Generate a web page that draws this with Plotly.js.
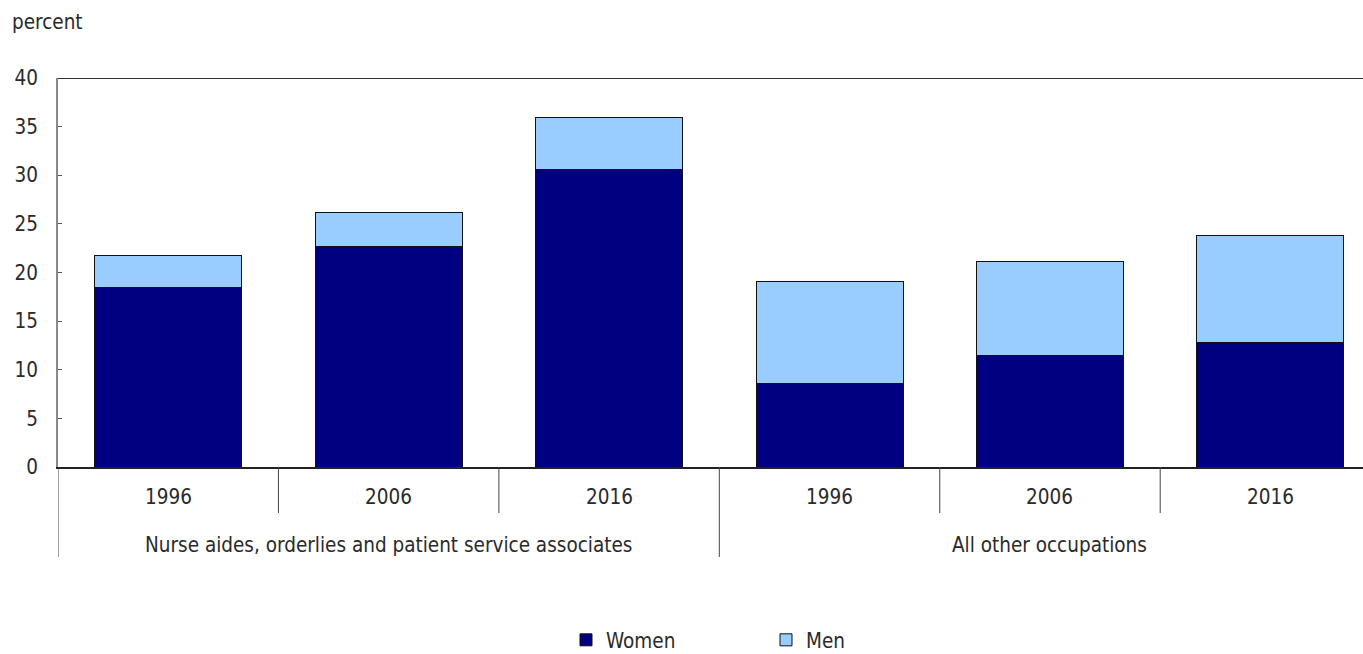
<!DOCTYPE html>
<html>
<head>
<meta charset="utf-8">
<script src="https://cdn.plot.ly/plotly-3.0.1.min.js"></script>
<style>html,body{margin:0;padding:0;background:#fff;overflow:hidden}</style>
</head>
<body>
<div id="chart" style="width:1363px;height:654px"></div>
<script>
const groups = ["Nurse aides, orderlies and patient service associates", "All other occupations"];
const years = ["1996", "2006", "2016"];
const women = [18.5, 22.7, 30.6, 8.6, 11.5, 12.8];
const men = [3.3, 3.5, 5.3, 10.5, 9.6, 11.0];
const yTicks = [0, 5, 10, 15, 20, 25, 30, 35, 40];

const xGroup = [], xYear = [];
groups.forEach(g => years.forEach(y => { xGroup.push(g); xYear.push(y); }));

const FONT = "DejaVu Sans Condensed, DejaVu Sans, sans-serif";
const FS = 20.5;
const TXT = "#2a2a2a";

const traces = [
  {type: "bar", name: "Women", x: [xGroup, xYear], y: women,
   marker: {color: "#000080", line: {color: "#111", width: 1}}},
  {type: "bar", name: "Men", x: [xGroup, xYear], y: men,
   marker: {color: "#99CCFF", line: {color: "#111", width: 1}}}
];

const plotH = 654 - 78 - 187;
const shapes = [];
const annotations = [];
// top border line
shapes.push({type: "line", xref: "paper", yref: "y", x0: 0, x1: 1, y0: 40, y1: 40,
  line: {color: "#333", width: 2}});
const n = xYear.length;
for (let i = 0; i < n; i++) {
  annotations.push({xref: "x", yref: "paper", x: i, y: -30 / plotH, text: xYear[i],
    showarrow: false, xanchor: "center", yanchor: "middle",
    font: {family: FONT, size: FS, color: TXT}});
  if (i < n - 1) {
    const boundary = (i + 1) % years.length === 0;
    shapes.push({type: "line", xref: "x", yref: "paper", x0: i + 0.5, x1: i + 0.5,
      y0: 0, y1: -(boundary ? 90 : 46) / plotH, line: {color: "#444", width: 1}});
  }
}
shapes.push({type: "line", xref: "x", yref: "paper", x0: -0.5, x1: -0.5,
  y0: 0, y1: -90 / plotH, line: {color: "#444", width: 1}});
groups.forEach((g, gi) => {
  annotations.push({xref: "x", yref: "paper", x: gi * years.length + 1, y: -78 / plotH, text: g,
    showarrow: false, xanchor: "center", yanchor: "middle",
    font: {family: FONT, size: FS, color: TXT}});
});
annotations.push({xref: "paper", yref: "paper", x: -48 / 1305, y: (467 - 22) / plotH,
  text: "percent", showarrow: false, xanchor: "left", yanchor: "middle",
  font: {family: FONT, size: FS, color: TXT}});

const layout = {
  width: 1363, height: 654,
  margin: {l: 58, r: 0, t: 78, b: 187},
  paper_bgcolor: "#fff", plot_bgcolor: "#fff",
  barmode: "stack", bargap: 0.333,
  font: {family: FONT, size: FS, color: TXT},
  xaxis: {type: "multicategory", range: [-0.5, 5.42], showticklabels: false,
    showdividers: false, ticks: "", showgrid: false, zeroline: false,
    showline: true, linecolor: "#222", linewidth: 2},
  yaxis: {range: [0, 40], tickvals: yTicks, ticktext: yTicks.map(String),
    ticks: "inside", ticklen: 4, tickcolor: "#555", tickwidth: 1,
    showgrid: false, zeroline: false, showline: true, linecolor: "#888", linewidth: 2,
    tickfont: {family: FONT, size: FS, color: TXT}, ticklabelstandoff: 14},
  legend: {orientation: "h", traceorder: "normal",
    xref: "paper", x: (566 - 58) / 1305, xanchor: "left",
    yref: "container", y: (654 - 640) / 654, yanchor: "middle",
    entrywidth: 155, entrywidthmode: "pixels", font: {family: FONT, size: FS, color: TXT}},
  shapes: shapes,
  annotations: annotations,
  showlegend: true
};

Plotly.newPlot("chart", traces, layout, {displayModeBar: false, staticPlot: true});
</script>
</body>
</html>
